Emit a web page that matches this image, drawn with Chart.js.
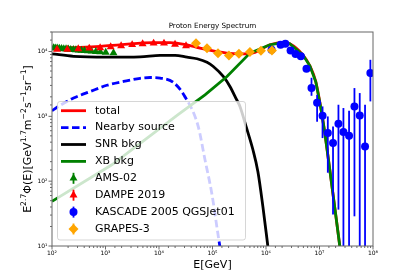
<!DOCTYPE html>
<html><head><meta charset="utf-8">
<script src="https://cdn.jsdelivr.net/npm/chart.js@4/dist/chart.umd.min.js"></script>
<style>html,body{margin:0;padding:0;background:#fff;}#wrap{width:415px;height:277px;position:relative;}</style>
</head><body><div id="wrap"><canvas id="c" width="415" height="277"></canvas></div>
<script>
// ---------- data ----------
const chartTitle = 'Proton Energy Spectrum';
const xAxisTitle = 'E[GeV]';
const seriesNames = ['total','Nearby source','SNR bkg','XB bkg','AMS-02','DAMPE 2019','KASCADE 2005 QGSJet01','GRAPES-3'];

const totalE = [100, 337, 796, 1880, 7760, 16100, 33400, 58500, 102000, 212000, 404000, 621000, 1180000, 2070000, 2790000, 4880000, 6600000, 8530000, 10580000, 12560000, 15570000, 19300000, 23900000, 27000000];
const totalV = [11200, 11600, 12030, 12690, 13760, 13760, 12690, 11280, 10250, 9380, 9220, 9720, 12700, 13870, 13150, 8890, 6030, 3410, 1358, 559, 150, 39, 10.1, 4.3];

const nearbyE = [100, 143, 253, 519, 1062, 2170, 4440, 6820, 10500, 18600, 29400, 53600, 72400, 97900, 126800, 150000];
const nearbyV = [1219, 1483, 1914, 2420, 3015, 3450, 3865, 3975, 3890, 3327, 2113, 716, 214, 62, 15, 6.2];

const snrE = [100, 253, 1062, 4440, 10500, 19950, 33400, 51400, 78900, 103500, 158900, 212000, 282500, 326000, 431000, 570000, 706000, 875000, 1080000, 1230000];
const snrV = [9230, 8440, 8200, 8290, 8740, 8740, 8200, 7730, 6820, 5870, 4120, 2890, 1803, 1422, 668, 305, 140, 40.5, 10.1, 4.3];

const xbE = [100, 1315, 22700, 72400, 186600, 501000, 1180000, 2070000, 2790000, 4880000, 6600000, 8530000, 10580000, 12560000, 15570000, 19300000, 23900000, 27000000];
const xbV = [48.9, 179, 1059, 2150, 4120, 9450, 12700, 13870, 13150, 8890, 6030, 3410, 1358, 559, 150, 39, 10.1, 4.3];

const amsE = [107, 115, 125, 137, 151, 166, 183, 202, 224, 250, 280, 315, 355, 405, 470, 550, 660, 800, 1010, 1410];
const amsV = [11400, 11300, 11300, 11200, 11100, 11000, 10950, 10850, 10750, 10700, 10600, 10500, 10400, 10300, 10200, 10100, 9950, 9850, 9700, 9500];

const dampeE = [124, 193, 309, 497, 794, 1250, 1960, 3150, 4940, 7930, 12400, 19950, 32000];
const dampeV = [10800, 10800, 11000, 11200, 11400, 11800, 12200, 12700, 13100, 13400, 13400, 12900, 12200];

const kascadeE = [1.27e6, 1.87e6, 2.30e6, 2.88e6, 3.57e6, 4.48e6, 5.71e6, 7.09e6, 9.02e6, 1.14e7, 1.43e7, 1.79e7, 2.26e7, 2.80e7, 3.57e7, 4.50e7, 5.65e7, 7.10e7, 8.93e7];
const kascadeV = [10620, 12680, 13150, 10360, 9120, 8440, 5410, 2730, 1620, 1022, 553, 388, 769, 573, 502, 1423, 1033, 344, 4645];
const kascadeLo = [10300, 12300, 12750, 10000, 8800, 8000, 5000, 2075, 826, 462, 135, 30.5, 36.4, 3, 3, 28.7, 3, 3, 1700];
const kascadeHi = [10950, 13050, 13550, 10700, 9450, 8900, 5850, 3935, 2150, 1423, 996, 698, 1510, 1343, 1219, 2730, 2286, 1510, 7450];

const grapesE = [49200, 78900, 126800, 203000, 312000, 501000, 804000, 1290000];
const grapesV = [13460, 11200, 9380, 8670, 9220, 9790, 10250, 10360];

const xTickVals = [1e2, 1e3, 1e4, 1e5, 1e6, 1e7, 1e8];
const xTickLabels = ['10²','10³','10⁴','10⁵','10⁶','10⁷','10⁸'];
const yTickVals = [1e1, 1e2, 1e3, 1e4];
const yTickLabels = ['10¹','10²','10³','10⁴'];

// ---------- chart ----------
const FONT = "'DejaVu Sans', 'Liberation Sans', sans-serif";
function pts(E, V) { return E.map((e, i) => ({x: e, y: V[i]})); }
function isDecade(v){ const l = Math.log10(v); return Math.abs(l - Math.round(l)) < 1e-6; }
function tickLabel(vals, labels){
  return function(v){ for (let i = 0; i < vals.length; i++) { if (Math.abs(v / vals[i] - 1) < 1e-6) return labels[i]; } return ''; };
}

function lineDs(i, E, V, color, extra){
  return Object.assign({label: seriesNames[i], data: pts(E, V), borderColor: color, backgroundColor: color,
    borderWidth: 2.8, pointRadius: 0, pointHoverRadius: 0, fill: false, clip: 0, order: 20 - i}, extra || {});
}
function markDs(i, E, V, color, style, r){
  return {label: seriesNames[i], data: pts(E, V), showLine: false, borderColor: color, backgroundColor: color,
    pointStyle: style, pointRadius: r, pointHoverRadius: r, pointBorderWidth: 0, order: 20 - i};
}

const datasets = [
  lineDs(0, totalE, totalV, '#ff0000', {cubicInterpolationMode: 'monotone'}),
  lineDs(1, nearbyE, nearbyV, '#0000ff', {cubicInterpolationMode: 'monotone', borderDash: [7.5, 3.5]}),
  lineDs(2, snrE, snrV, '#000000', {cubicInterpolationMode: 'monotone'}),
  lineDs(3, xbE, xbV, '#008000', {tension: 0}),
  markDs(4, amsE, amsV, '#008000', 'triangle', 4.6),
  markDs(5, dampeE, dampeV, '#ff0000', 'triangle', 4.6),
  markDs(6, kascadeE, kascadeV, '#0000ff', 'circle', 4),
  markDs(7, grapesE, grapesV, '#ffa500', 'rectRot', 5)
];
const errorBars = {6: {lo: kascadeLo, hi: kascadeHi}};

function drawMarker(ctx, style, x, y, r, color){
  ctx.fillStyle = color; ctx.beginPath();
  if (style === 'circle') { ctx.arc(x, y, r, 0, Math.PI * 2); }
  else if (style === 'triangle') {
    for (let k = 0; k < 3; k++) { const a = k * 2 * Math.PI / 3; const px = x + Math.sin(a) * r, py = y - Math.cos(a) * r; k ? ctx.lineTo(px, py) : ctx.moveTo(px, py); }
    ctx.closePath();
  } else { ctx.moveTo(x, y - r); ctx.lineTo(x + r, y); ctx.lineTo(x, y + r); ctx.lineTo(x - r, y); ctx.closePath(); }
  ctx.fill();
}

const errPlugin = {
  id: 'errbars',
  beforeDatasetDraw(chart, args){
    const eb = errorBars[args.index]; if (!eb) return;
    const ds = chart.data.datasets[args.index];
    const xs = chart.scales.x, ys = chart.scales.y, ca = chart.chartArea, ctx = chart.ctx;
    ctx.save(); ctx.beginPath(); ctx.rect(ca.left, ca.top, ca.right - ca.left, ca.bottom - ca.top); ctx.clip();
    ctx.strokeStyle = ds.borderColor; ctx.lineWidth = 1.8;
    ds.data.forEach((p, i) => {
      const px = xs.getPixelForValue(p.x);
      ctx.beginPath(); ctx.moveTo(px, ys.getPixelForValue(eb.lo[i])); ctx.lineTo(px, ys.getPixelForValue(eb.hi[i])); ctx.stroke();
    });
    ctx.restore();
  }
};

const legendPlugin = {
  id: 'mlLegend',
  afterDatasetsDraw(chart){
    const ctx = chart.ctx; ctx.save();
    const bx = 57.5, by = 101.5, bw = 188, bh = 138.5, rr = 2.5;
    ctx.beginPath();
    ctx.moveTo(bx + rr, by); ctx.lineTo(bx + bw - rr, by); ctx.arcTo(bx + bw, by, bx + bw, by + rr, rr);
    ctx.lineTo(bx + bw, by + bh - rr); ctx.arcTo(bx + bw, by + bh, bx + bw - rr, by + bh, rr);
    ctx.lineTo(bx + rr, by + bh); ctx.arcTo(bx, by + bh, bx, by + bh - rr, rr);
    ctx.lineTo(bx, by + rr); ctx.arcTo(bx, by, bx + rr, by, rr); ctx.closePath();
    ctx.fillStyle = 'rgba(255,255,255,0.8)'; ctx.fill();
    ctx.strokeStyle = 'rgba(204,204,204,0.8)'; ctx.lineWidth = 1; ctx.stroke();
    const y0 = 110.7, dy = 16.9;
    chart.data.datasets.forEach((d, i) => {
      const y = y0 + i * dy;
      if (d.showLine === false) {
        ctx.strokeStyle = d.borderColor; ctx.lineWidth = 1.8; ctx.setLineDash([]);
        ctx.beginPath(); ctx.moveTo(73.5, y - 5.5); ctx.lineTo(73.5, y + 5.5); ctx.stroke();
        drawMarker(ctx, d.pointStyle, 73.5, y, d.pointRadius, d.borderColor);
      } else {
        ctx.strokeStyle = d.borderColor; ctx.lineWidth = d.borderWidth; ctx.setLineDash(d.borderDash || []);
        ctx.beginPath(); ctx.moveTo(61, y); ctx.lineTo(86, y); ctx.stroke(); ctx.setLineDash([]);
      }
      ctx.fillStyle = '#000'; ctx.font = '11px ' + FONT; ctx.textBaseline = 'middle'; ctx.textAlign = 'left';
      ctx.fillText(d.label, 95, y);
    });
    ctx.restore();
  }
};

const yTitleParts = [['E',0],['2.7',1],['Φ(E)[GeV',0],['1.7',1],['m',0],['−2',1],['s',0],['−1',1],['sr',0],['−1',1],[']',0]];

const framePlugin = {
  id: 'frame',
  afterDraw(chart){
    const ctx = chart.ctx, ca = chart.chartArea;
    ctx.save();
    // ticks
    ctx.strokeStyle = '#444'; ctx.lineWidth = 0.8;
    const xs = chart.scales.x, ys = chart.scales.y;
    xs.ticks.forEach(t => { const px = xs.getPixelForValue(t.value); if (px < ca.left - 0.5 || px > ca.right + 0.5) return;
      const L = isDecade(t.value) ? 3.5 : 2; ctx.beginPath(); ctx.moveTo(px, ca.bottom); ctx.lineTo(px, ca.bottom + L); ctx.stroke(); });
    ys.ticks.forEach(t => { const py = ys.getPixelForValue(t.value); if (py < ca.top - 0.5 || py > ca.bottom + 0.5) return;
      const L = isDecade(t.value) ? 3.5 : 2; ctx.beginPath(); ctx.moveTo(ca.left, py); ctx.lineTo(ca.left - L, py); ctx.stroke(); });
    // spines
    ctx.strokeStyle = '#666'; ctx.lineWidth = 1;
    ctx.strokeRect(ca.left, ca.top, ca.right - ca.left, ca.bottom - ca.top);
    // titles
    ctx.fillStyle = '#000'; ctx.textAlign = 'center'; ctx.textBaseline = 'middle';
    ctx.font = '7.2px ' + FONT; ctx.fillText(chartTitle, (ca.left + ca.right) / 2, 25.7);
    ctx.font = '11px ' + FONT; ctx.fillText(xAxisTitle, (ca.left + ca.right) / 2, 265);
    // rotated y title with superscripts
    const mainF = '11px ' + FONT, supF = '7.7px ' + FONT;
    let total = 0;
    yTitleParts.forEach(p => { ctx.font = p[1] ? supF : mainF; total += ctx.measureText(p[0]).width; });
    ctx.translate(30.5, (ca.top + ca.bottom) / 2); ctx.rotate(-Math.PI / 2);
    ctx.textAlign = 'left'; ctx.textBaseline = 'alphabetic';
    let cx = -total / 2;
    yTitleParts.forEach(p => { ctx.font = p[1] ? supF : mainF; ctx.fillText(p[0], cx, p[1] ? -4.8 : 0); cx += ctx.measureText(p[0]).width; });
    ctx.restore();
  }
};

new Chart(document.getElementById('c'), {
  type: 'line',
  data: {datasets},
  options: {
    responsive: false, animation: false, devicePixelRatio: 1,
    layout: {padding: {left: 0, right: 42, top: 32, bottom: 0}},
    plugins: {legend: {display: false}, tooltip: {enabled: false}, title: {display: false}},
    elements: {point: {hitRadius: 0}},
    scales: {
      x: {type: 'logarithmic', min: 1e2, max: 1e8, position: 'bottom',
        grid: {display: false, drawTicks: true, tickLength: 3.5}, border: {display: false},
        ticks: {autoSkip: false, maxRotation: 0, padding: 0.5, color: '#000', font: {family: FONT, size: 6}, callback: tickLabel(xTickVals, xTickLabels)},
        afterFit(s){ s.height = 31; }},
      y: {type: 'logarithmic', min: 1e1, max: 2e4,
        grid: {display: false, drawTicks: true, tickLength: 3.5}, border: {display: false},
        ticks: {autoSkip: false, padding: 1, color: '#000', font: {family: FONT, size: 6}, callback: tickLabel(yTickVals, yTickLabels)},
        afterFit(s){ s.width = 52; }}
    }
  },
  plugins: [errPlugin, legendPlugin, framePlugin]
});
</script>
</body></html>
